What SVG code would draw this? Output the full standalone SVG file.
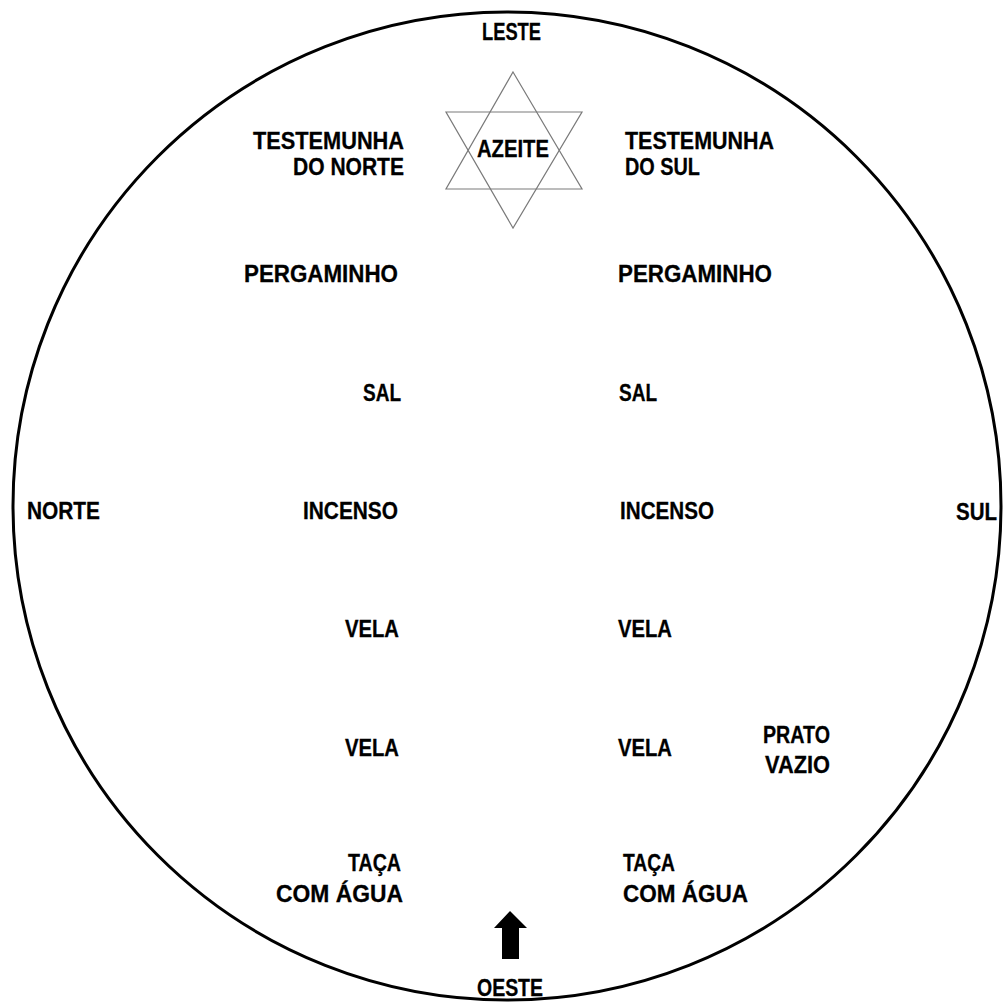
<svg xmlns="http://www.w3.org/2000/svg" width="1005" height="1004" viewBox="0 0 1005 1004">
<style>
  text { font-family: "Liberation Sans", Arial, sans-serif; font-weight: bold; font-size: 24px; fill: #000; stroke: #000; stroke-width: 0.3; }
  .star { fill: none; stroke: #7a7a7a; stroke-width: 1.2; }
</style>
<rect width="1005" height="1004" fill="#fff"/>
<g id="boundary">
  <circle cx="507" cy="506" r="494" fill="none" stroke="#000" stroke-width="3"/>
</g>
<g id="directions">
  <text id="leste" x="482" y="40" textLength="59" lengthAdjust="spacingAndGlyphs">LESTE</text>
  <text id="norte" x="27" y="519" textLength="73" lengthAdjust="spacingAndGlyphs">NORTE</text>
  <text id="sul" x="956" y="520" textLength="41" lengthAdjust="spacingAndGlyphs">SUL</text>
  <text id="oeste" x="477" y="996" textLength="66" lengthAdjust="spacingAndGlyphs">OESTE</text>
</g>
<g id="azeite">
  <polygon class="star" points="513,72 582,189 446,189"/>
  <polygon class="star" points="446,112 582,112 513,228"/>
  <text x="477" y="157" textLength="72" lengthAdjust="spacingAndGlyphs">AZEITE</text>
</g>
<g id="testemunha-norte">
  <text x="253" y="149" textLength="151" lengthAdjust="spacingAndGlyphs">TESTEMUNHA</text>
  <text x="293" y="175" textLength="111" lengthAdjust="spacingAndGlyphs">DO NORTE</text>
</g>
<g id="testemunha-sul">
  <text x="625" y="149" textLength="149" lengthAdjust="spacingAndGlyphs">TESTEMUNHA</text>
  <text x="625" y="175" textLength="75" lengthAdjust="spacingAndGlyphs">DO SUL</text>
</g>
<g id="pergaminho-l"><text x="244" y="282" textLength="154" lengthAdjust="spacingAndGlyphs">PERGAMINHO</text></g>
<g id="pergaminho-r"><text x="618" y="282" textLength="154" lengthAdjust="spacingAndGlyphs">PERGAMINHO</text></g>
<g id="sal-l"><text x="363" y="401" textLength="38" lengthAdjust="spacingAndGlyphs">SAL</text></g>
<g id="sal-r"><text x="619" y="401" textLength="38" lengthAdjust="spacingAndGlyphs">SAL</text></g>
<g id="incenso-l"><text x="303" y="519" textLength="95" lengthAdjust="spacingAndGlyphs">INCENSO</text></g>
<g id="incenso-r"><text x="620" y="519" textLength="94" lengthAdjust="spacingAndGlyphs">INCENSO</text></g>
<g id="vela-l1"><text x="345" y="637" textLength="54" lengthAdjust="spacingAndGlyphs">VELA</text></g>
<g id="vela-r1"><text x="618" y="637" textLength="54" lengthAdjust="spacingAndGlyphs">VELA</text></g>
<g id="vela-l2"><text x="345" y="756" textLength="54" lengthAdjust="spacingAndGlyphs">VELA</text></g>
<g id="vela-r2"><text x="618" y="756" textLength="54" lengthAdjust="spacingAndGlyphs">VELA</text></g>
<g id="prato-vazio">
  <text x="763" y="743" textLength="67" lengthAdjust="spacingAndGlyphs">PRATO</text>
  <text x="765" y="773" textLength="65" lengthAdjust="spacingAndGlyphs">VAZIO</text>
</g>
<g id="taca-l">
  <text x="348" y="871" textLength="53" lengthAdjust="spacingAndGlyphs">TAÇA</text>
  <text x="276" y="902" textLength="127" lengthAdjust="spacingAndGlyphs">COM ÁGUA</text>
</g>
<g id="taca-r">
  <text x="623" y="871" textLength="52" lengthAdjust="spacingAndGlyphs">TAÇA</text>
  <text x="623" y="902" textLength="125" lengthAdjust="spacingAndGlyphs">COM ÁGUA</text>
</g>
<g id="connectors">
  <polygon points="510,911 527,928 519,928 519,959 502,959 502,928 494,928" fill="#000"/>
</g>
</svg>
